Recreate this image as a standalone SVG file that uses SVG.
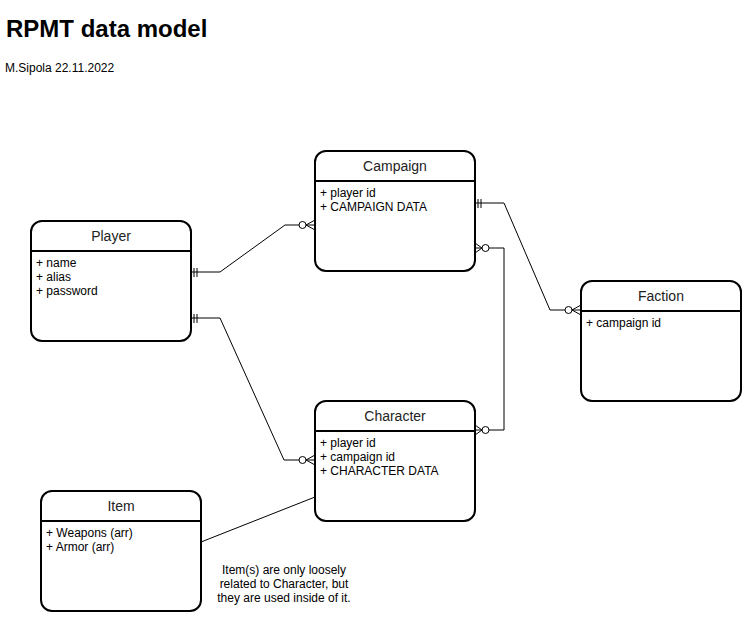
<svg xmlns="http://www.w3.org/2000/svg" width="742" height="621" viewBox="0 0 742 621">
<style>
.box{fill:#fff;stroke:#000;stroke-width:2}
.hdr{stroke:#000;stroke-width:2}
.t{font-family:"Liberation Sans",Arial,sans-serif;fill:#000}
.h{font-size:14px;text-anchor:middle;fill:#222}
.a{font-size:12px}
.c{fill:none;stroke:#000;stroke-width:1}
.o{fill:#fff;stroke:#000;stroke-width:1}
</style>
<rect width="742" height="621" fill="#fff"/>
<text class="t" x="6" y="37" font-size="24" font-weight="bold">RPMT data model</text>
<text class="t" x="5" y="72" font-size="12">M.Sipola 22.11.2022</text>

<g id="connectors">
  <!-- Player - Campaign -->
  <path class="c" d="M191 272 H220 L285 225 H306"/>
  <path class="c" d="M194 268 V277 M197 268 V277"/>
  <path class="c" d="M306 225 L315 220 M306 225 L315 225 M306 225 L315 230"/>
  <circle class="o" cx="302.5" cy="225" r="3.5"/>
  <!-- Player - Character -->
  <path class="c" d="M191 318 H220 L284 460 H306"/>
  <path class="c" d="M194 314 V323 M197 314 V323"/>
  <path class="c" d="M306 460 L315 455 M306 460 L315 460 M306 460 L315 465"/>
  <circle class="o" cx="302.5" cy="460" r="3.5"/>
  <!-- Campaign - Faction -->
  <path class="c" d="M475 203 H504 L550 310 H572"/>
  <path class="c" d="M478 199 V208 M481 199 V208"/>
  <path class="c" d="M572 310 L581 305 M572 310 L581 310 M572 310 L581 315"/>
  <circle class="o" cx="568.5" cy="310" r="3.5"/>
  <!-- Campaign - Character -->
  <path class="c" d="M489 248 H504 V430 H489"/>
  <path class="c" d="M482 248 L475 243 M482 248 L475 248 M482 248 L475 253"/>
  <circle class="o" cx="485.5" cy="248" r="3.5"/>
  <path class="c" d="M482 430 L475 425 M482 430 L475 430 M482 430 L475 435"/>
  <circle class="o" cx="485.5" cy="430" r="3.5"/>
  <!-- Item - Character -->
  <path class="c" d="M201 542 L315 497"/>
</g>

<g id="campaign">
  <rect class="box" x="315" y="151" width="160" height="120" rx="11"/>
  <line class="hdr" x1="315" y1="181" x2="475" y2="181"/>
  <text class="t h" x="395" y="171">Campaign</text>
  <text class="t a" x="320" y="197">+ player id</text>
  <text class="t a" x="320" y="211">+ CAMPAIGN DATA</text>
</g>

<g id="player">
  <rect class="box" x="31" y="221" width="160" height="120" rx="11"/>
  <line class="hdr" x1="31" y1="251" x2="191" y2="251"/>
  <text class="t h" x="111" y="241">Player</text>
  <text class="t a" x="36" y="267">+ name</text>
  <text class="t a" x="36" y="281">+ alias</text>
  <text class="t a" x="36" y="295">+ password</text>
</g>

<g id="faction">
  <rect class="box" x="581" y="281" width="160" height="120" rx="11"/>
  <line class="hdr" x1="581" y1="311" x2="741" y2="311"/>
  <text class="t h" x="661" y="301">Faction</text>
  <text class="t a" x="586" y="327">+ campaign id</text>
</g>

<g id="character">
  <rect class="box" x="315" y="401" width="160" height="120" rx="11"/>
  <line class="hdr" x1="315" y1="431" x2="475" y2="431"/>
  <text class="t h" x="395" y="421">Character</text>
  <text class="t a" x="320" y="447">+ player id</text>
  <text class="t a" x="320" y="461">+ campaign id</text>
  <text class="t a" x="320" y="475">+ CHARACTER DATA</text>
</g>

<g id="item">
  <rect class="box" x="41" y="491" width="160" height="120" rx="11"/>
  <line class="hdr" x1="41" y1="521" x2="201" y2="521"/>
  <text class="t h" x="121" y="511">Item</text>
  <text class="t a" x="46" y="537">+ Weapons (arr)</text>
  <text class="t a" x="46" y="551">+ Armor (arr)</text>
</g>

<g id="note">
  <text class="t a" x="284" y="574" text-anchor="middle">Item(s) are only loosely</text>
  <text class="t a" x="284" y="588" text-anchor="middle">related to Character, but</text>
  <text class="t a" x="284" y="602" text-anchor="middle">they are used inside of it.</text>
</g>
</svg>
